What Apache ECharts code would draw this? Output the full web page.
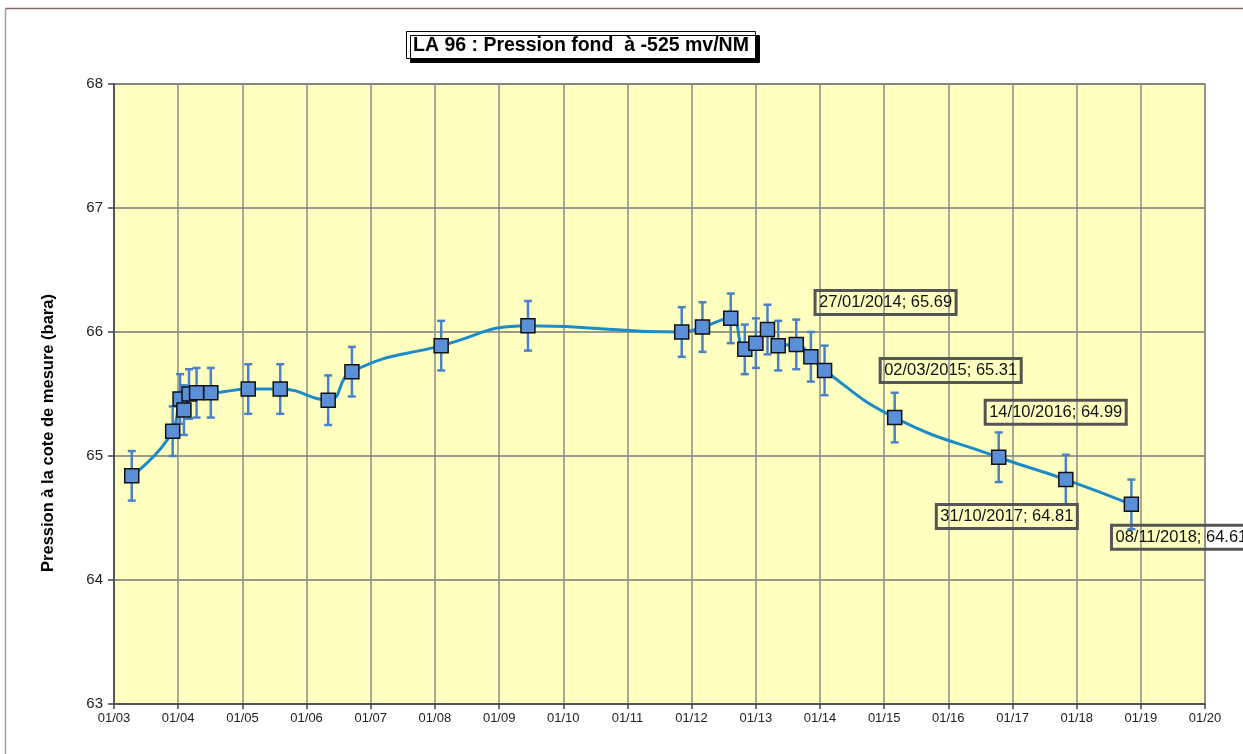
<!DOCTYPE html>
<html><head><meta charset="utf-8">
<script src="https://cdn.jsdelivr.net/npm/echarts@6/dist/echarts.min.js"></script>
<style>html,body{margin:0;padding:0;background:#fff}#c{width:1243px;height:754px}</style>
</head><body><div id="c"></div>
<script>
// ---- data ----
const titleText = 'LA 96 : Pression fond  à -525 mv/NM';
const yAxisTitle = 'Pression à la cote de mesure (bara)';
const dates = [
  '2003-04-12','2003-12-01','2004-01-12','2004-02-03','2004-03-03','2004-04-15','2004-07-05',
  '2005-02-03','2005-08-04','2006-05-04','2006-09-16','2008-02-06','2009-06-14','2011-11-06',
  '2012-03-03','2012-08-11','2012-10-30','2013-01-01','2013-03-08','2013-05-08','2013-08-19',
  '2013-11-10','2014-01-27','2015-03-02','2016-10-14','2017-10-31','2018-11-08'
];
const pressures = [
  64.84, 65.20, 65.46, 65.37, 65.50, 65.51, 65.51,
  65.54, 65.54, 65.45, 65.68, 65.89, 66.05, 66.00,
  66.04, 66.11, 65.86, 65.91, 66.02, 65.89, 65.90,
  65.80, 65.69, 65.31, 64.99, 64.81, 64.61
];
const errorMargin = 0.2;
const labelledDates = ['2014-01-27','2015-03-02','2016-10-14','2017-10-31','2018-11-08'];
const xStart = '2003-01-01', xEnd = '2020-01-01';
const yMin = 63, yMax = 68, yStep = 1;

// ---- styles / label placement ----
const labelOffsets = {
  '2014-01-27': [61, -68],
  '2015-03-02': [56, -47],
  '2016-10-14': [57, -45],
  '2017-10-31': [-59, 37],
  '2018-11-08': [50, 33]
};
const FONT = 'Arial, "Liberation Sans", Helvetica, sans-serif';
const lineColor = '#1b8cc8';
const markerColor = '#5b8fd8';
const errColor = '#4a82c8';

function fmtLabel(d, v) {
  const p = d.split('-');
  return p[2] + '/' + p[1] + '/' + p[0] + '; ' + v.toFixed(2);
}
function pad(n){ return (n < 10 ? '0' : '') + n; }

const markerData = dates.map((d, i) => {
  const item = { value: [d, pressures[i]] };
  if (labelledDates.indexOf(d) >= 0) {
    item.label = {
      show: true, position: 'inside', offset: labelOffsets[d],
      formatter: fmtLabel(d, pressures[i]),
      color: '#111', fontFamily: FONT, fontSize: 16.5, lineHeight: 19,
      borderColor: '#555', borderWidth: 1.5, padding: [3, 4, 2, 4],
      backgroundColor: 'transparent'
    };
  }
  return item;
});

const chart = echarts.init(document.getElementById('c'), null, { renderer: 'canvas' });
chart.setOption({
  animation: false,
  backgroundColor: '#fff',
  title: {
    text: titleText, left: 406, top: 31,
    backgroundColor: '#fff', borderColor: '#000', borderWidth: 1,
    shadowColor: '#000', shadowOffsetX: 4, shadowOffsetY: 4, shadowBlur: 0,
    padding: [4, 7, 3, 7],
    textStyle: { fontFamily: FONT, fontSize: 19.5, lineHeight: 21, fontWeight: 'bold', color: '#000' }
  },
  graphic: [
    { type: 'line', shape: { x1: 5, y1: 8.5, x2: 1243, y2: 8.5 }, style: { stroke: '#8a6262', lineWidth: 1.5 }, silent: true },
    { type: 'line', shape: { x1: 5.5, y1: 8, x2: 5.5, y2: 754 }, style: { stroke: '#a0a0a0', lineWidth: 1.5 }, silent: true },
    { type: 'text', x: 48, y: 433, rotation: Math.PI / 2,
      style: { text: yAxisTitle, fontFamily: FONT, fontSize: 16.5, fontWeight: 'bold', fill: '#000', align: 'center', verticalAlign: 'middle' } }
  ],
  grid: {
    left: 114, right: 38, top: 84, bottom: 50,
    show: true, backgroundColor: '#ffffc0', borderColor: '#8c8c8c', borderWidth: 1.5
  },
  xAxis: {
    type: 'time', min: xStart, max: xEnd,
    splitNumber: 17,
    minInterval: 365 * 24 * 3600 * 1000, maxInterval: 366 * 24 * 3600 * 1000,
    axisLine: { show: true, lineStyle: { color: '#444', width: 1.5 } },
    axisTick: { show: true, length: 5, lineStyle: { color: '#444', width: 1.5 } },
    splitLine: { show: true, lineStyle: { color: '#8c8c8c', width: 1.5 } },
    minorTick: { show: false },
    axisLabel: {
      color: '#222', fontFamily: FONT, fontSize: 13, margin: 8,
      showMinLabel: true, showMaxLabel: true, hideOverlap: false,
      formatter: function (v) { const d = new Date(v); return pad(d.getMonth() + 1) + '/' + pad(d.getFullYear() % 100); }
    }
  },
  yAxis: {
    type: 'value', min: yMin, max: yMax, interval: yStep,
    axisLine: { show: true, lineStyle: { color: '#444', width: 1.5 } },
    axisTick: { show: true, length: 6, lineStyle: { color: '#444', width: 1.5 } },
    splitLine: { show: true, lineStyle: { color: '#7a7a7a', width: 1.5 } },
    axisLabel: { color: '#222', fontFamily: FONT, fontSize: 15, margin: 11 }
  },
  series: [
    {
      type: 'line', name: 'curve', z: 1,
      data: dates.map((d, i) => [d, pressures[i]]),
      smooth: 0.5, showSymbol: false, symbol: 'none',
      lineStyle: { color: lineColor, width: 3 }
    },
    {
      type: 'custom', name: 'errors', z: 2,
      data: dates.map((d, i) => [d, pressures[i] - errorMargin, pressures[i] + errorMargin]),
      encode: { x: 0, y: [1, 2] },
      renderItem: function (params, api) {
        const x = api.value(0);
        const pLo = api.coord([x, api.value(1)]);
        const pHi = api.coord([x, api.value(2)]);
        const hw = 4;
        const st = { stroke: errColor, lineWidth: 2.5 };
        return { type: 'group', children: [
          { type: 'line', shape: { x1: pLo[0], y1: pLo[1], x2: pHi[0], y2: pHi[1] }, style: st },
          { type: 'line', shape: { x1: pLo[0] - hw, y1: pLo[1], x2: pLo[0] + hw, y2: pLo[1] }, style: st },
          { type: 'line', shape: { x1: pHi[0] - hw, y1: pHi[1], x2: pHi[0] + hw, y2: pHi[1] }, style: st }
        ]};
      }
    },
    {
      type: 'scatter', name: 'points', z: 3,
      data: markerData,
      symbol: 'rect', symbolSize: 14,
      itemStyle: { color: markerColor, borderColor: '#111', borderWidth: 1.5, opacity: 1 },
      label: { show: false }
    }
  ]
});
</script>
</body></html>
